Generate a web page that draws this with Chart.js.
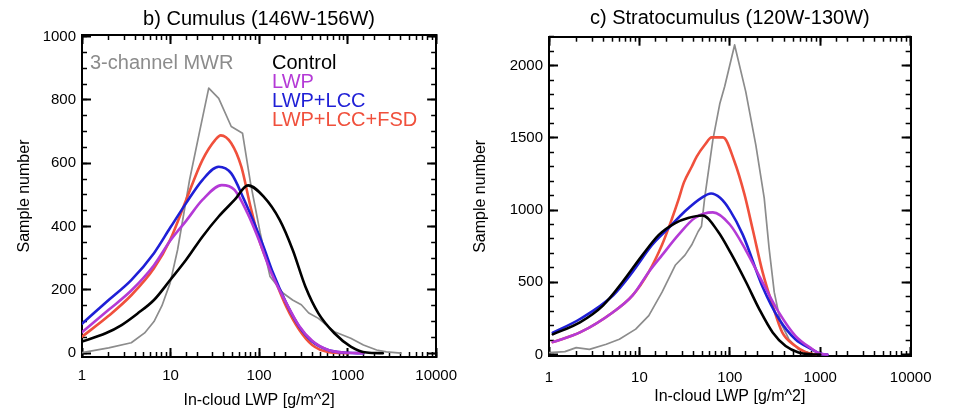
<!DOCTYPE html>
<html>
<head>
<meta charset="utf-8">
<script src="https://cdn.jsdelivr.net/npm/chart.js@4.4.0/dist/chart.umd.min.js"></script>
<style>
html,body{margin:0;padding:0;background:#fff;}
#wrap{position:relative;width:953px;height:410px;overflow:hidden;}
canvas{position:absolute;top:0;}
</style>
</head>
<body>
<div id="wrap">
<canvas id="c1" width="476" height="410" style="left:0px"></canvas>
<canvas id="c2" width="493" height="410" style="left:460px"></canvas>
</div>
<script>
// ---------- tick labels ----------
const X_TICK_VALUES = [1, 10, 100, 1000, 10000];
const X_TICK_LABELS = ['1', '10', '100', '1000', '10000'];
const CU_Y_TICKS = [0, 200, 400, 600, 800, 1000];
const SC_Y_TICKS = [0, 500, 1000, 1500, 2000];

// ---------- series names ----------
const SERIES_NAMES = ['Control', 'LWP', 'LWP+LCC', 'LWP+LCC+FSD', '3-channel MWR'];

// ---------- b) Cumulus (146W-156W) ----------
const CU_CONTROL_X = [1, 1.85, 2.8, 4.27, 6.5, 9.9, 15, 22.9, 34.8, 52.8, 75, 112, 171, 240, 334, 468, 710, 1085, 1640, 2500];
const CU_CONTROL_Y = [37, 63, 89, 126, 168, 231, 295, 368, 431, 484, 530, 495, 421, 326, 210, 126, 63, 21, 2, 0];

const CU_LWP_X = [1, 2, 3.6, 6.5, 9.9, 15, 22.9, 37.9, 52.8, 74, 103, 133, 200, 284, 398, 604, 900, 1500];
const CU_LWP_Y = [66, 137, 198, 278, 355, 418, 484, 531, 516, 442, 347, 263, 162, 86, 39, 10, 2, 0];

const CU_LCC_X = [1, 2, 3.6, 6.5, 9.9, 15, 22.9, 35, 48.5, 68, 88, 112, 144, 203, 284, 398, 604, 900, 1500];
const CU_LCC_Y = [93, 168, 231, 316, 396, 474, 547, 589, 568, 484, 411, 337, 253, 158, 84, 37, 10, 2, 0];

const CU_FSD_X = [1, 2, 3.6, 6.5, 9.9, 15, 22.9, 32, 37, 48.5, 63, 80, 103, 144, 203, 284, 398, 600, 1000];
const CU_FSD_Y = [52, 118, 183, 268, 358, 484, 610, 674, 688, 663, 589, 463, 348, 247, 147, 74, 26, 4, 0];

const CU_MWR_X = [1, 2, 3.6, 5.1, 6.5, 8, 9.9, 12, 16.4, 21, 27, 35, 48.5, 65, 80, 103, 133, 186, 239, 300, 364, 468, 710, 1085, 1510, 2130, 2740, 4000];
const CU_MWR_Y = [2, 17, 33, 64, 100, 150, 222, 326, 547, 692, 837, 805, 716, 695, 538, 380, 242, 190, 168, 153, 127, 110, 68, 47, 26, 10, 4, 0];

// ---------- c) Stratocumulus (120W-130W) ----------
const SC_CONTROL_X = [1.1, 2.2, 3.95, 6.5, 10.8, 16.4, 24.9, 34.6, 50, 74, 103, 151, 211, 298, 414, 575, 800, 1000];
const SC_CONTROL_Y = [140, 223, 339, 502, 688, 828, 910, 945, 962, 852, 700, 502, 316, 153, 59, 15, 2, 0];

const SC_LWP_X = [1.1, 2.2, 5.1, 8.4, 12.7, 17.8, 27, 41, 65, 100, 151, 230, 350, 531, 808, 1000, 1200];
const SC_LWP_Y = [86, 153, 293, 409, 572, 688, 828, 945, 984, 900, 720, 500, 290, 130, 40, 5, 0];

const SC_LCC_X = [1.1, 2.2, 5.1, 8.4, 13.8, 21, 31.9, 48.6, 62, 78, 100, 139, 230, 350, 531, 808, 1000, 1200];
const SC_LCC_Y = [151, 246, 409, 572, 758, 875, 992, 1085, 1115, 1085, 1000, 830, 470, 246, 106, 36, 5, 0];

const SC_FSD_X = [1.1, 2.2, 5.1, 8.4, 12.7, 17.8, 22.9, 27, 31, 37.9, 43, 52.7, 63, 84, 112, 145, 180, 230, 298, 380, 531, 700, 900];
const SC_FSD_Y = [86, 153, 293, 409, 572, 760, 940, 1070, 1190, 1300, 1370, 1450, 1503, 1503, 1340, 1110, 860, 572, 339, 153, 59, 15, 0];

const SC_MWR_X = [1, 1.5, 2, 2.8, 4.3, 6, 9.1, 12.7, 17.8, 24.9, 31.9, 37.8, 44.5, 48.6, 52.7, 65, 77.7, 87.7, 113, 150, 194, 240, 272, 310, 364, 450, 575, 800, 1200];
const SC_MWR_Y = [13, 20, 48, 36, 71, 106, 176, 269, 432, 618, 688, 758, 850, 888, 1085, 1487, 1740, 1855, 2143, 1820, 1450, 1085, 735, 432, 223, 106, 36, 5, 0];

// ---------- styling ----------
const COLORS = ['#000000', '#b43ad6', '#1f1fd6', '#f0503c', '#8c8c8c'];
const WIDTHS = [2.6, 2.6, 2.6, 2.6, 1.7];
const FONT = "'Liberation Sans', Arial, Helvetica, sans-serif";

function pts(xs, ys) { return xs.map((x, i) => ({x: x, y: ys[i]})); }

function makeDatasets(series) {
  return series.map((s, i) => ({
    label: SERIES_NAMES[i],
    data: pts(s[0], s[1]),
    borderColor: COLORS[i],
    backgroundColor: COLORS[i],
    borderWidth: WIDTHS[i],
    pointRadius: 0,
    fill: false,
    tension: i === 4 ? 0 : 0.4,
    cubicInterpolationMode: i === 4 ? 'default' : 'monotone',
    borderJoinStyle: 'round',
    borderCapStyle: 'round'
  }));
}

const isDecade = v => Math.abs(Math.log10(v) - Math.round(Math.log10(v))) < 1e-9;
const fix = (dim, val) => (s) => { s[dim] = val; };

function buildScales(p) {
  const xBase = {type: 'logarithmic', min: 1, max: 10000};
  const tickFont = {family: FONT, size: 15};
  const common = {drawOnChartArea: false, drawTicks: true, tickColor: '#000'};
  const MAJ = {tickLength: -9, tickWidth: 2};
  const MIN = {tickLength: -5, tickWidth: 1.5};
  const yMinorTicks = s => {
    const out = [];
    for (let v = 0; v <= s.max; v += p.yMinorStep) out.push({value: v});
    s.ticks = out;
  };
  const yMajorTicks = s => { s.ticks = p.yTicks.map(v => ({value: v})); };
  const xMajorTicks = s => { s.ticks = s.ticks.filter(t => isDecade(t.value)); };
  const noLabel = () => '';
  return {
    x: Object.assign({}, xBase, {
      position: 'bottom', weight: 1,
      afterBuildTicks: xMajorTicks,
      ticks: {autoSkip: false, maxRotation: 0, padding: p.xLabelPad, color: '#000', font: tickFont,
        callback: v => { const i = X_TICK_VALUES.indexOf(Math.round(v)); return i < 0 ? '' : X_TICK_LABELS[i]; }},
      grid: Object.assign({}, common, MAJ),
      border: {display: true, color: '#000', width: 2},
      title: {display: true, text: 'In-cloud LWP [g/m^2]', color: '#000', font: {family: FONT, size: 16}, padding: {top: 0, bottom: p.xTitlePad}},
      afterFit: fix('height', p.bottomH)
    }),
    xMinor: Object.assign({}, xBase, {
      position: 'bottom', weight: 0,
      ticks: {autoSkip: false, maxRotation: 0, padding: 0, callback: noLabel},
      grid: Object.assign({}, common, MIN),
      border: {display: false},
      afterFit: fix('height', 0)
    }),
    xTop: Object.assign({}, xBase, {
      position: 'top', weight: 1,
      afterBuildTicks: xMajorTicks,
      ticks: {autoSkip: false, maxRotation: 0, padding: 0, callback: noLabel},
      grid: Object.assign({}, common, MAJ),
      border: {display: true, color: '#000', width: 2},
      afterFit: fix('height', 0)
    }),
    xTopMinor: Object.assign({}, xBase, {
      position: 'top', weight: 0,
      ticks: {autoSkip: false, maxRotation: 0, padding: 0, callback: noLabel},
      grid: Object.assign({}, common, MIN),
      border: {display: false},
      afterFit: fix('height', 0)
    }),
    y: {
      type: 'linear', position: 'left', weight: 1, min: p.yMin, max: p.yMax,
      afterBuildTicks: yMajorTicks,
      ticks: {autoSkip: false, padding: 15, color: '#000', font: tickFont, callback: v => String(v)},
      grid: Object.assign({}, common, MAJ),
      border: {display: true, color: '#000', width: 2},
      title: {display: true, text: 'Sample number', color: '#000', font: {family: FONT, size: 16}, padding: {top: p.yTitlePad, bottom: 0}},
      afterFit: fix('width', p.leftW)
    },
    yMinor: {
      type: 'linear', position: 'left', weight: 0, min: p.yMin, max: p.yMax,
      afterBuildTicks: yMinorTicks,
      ticks: {autoSkip: false, padding: 0, callback: noLabel},
      grid: Object.assign({}, common, MIN),
      border: {display: false},
      afterFit: fix('width', 0)
    },
    yRight: {
      type: 'linear', position: 'right', weight: 1, min: p.yMin, max: p.yMax,
      afterBuildTicks: yMajorTicks,
      ticks: {autoSkip: false, padding: 0, callback: noLabel},
      grid: Object.assign({}, common, MAJ),
      border: {display: true, color: '#000', width: 2},
      afterFit: fix('width', 0)
    },
    yRightMinor: {
      type: 'linear', position: 'right', weight: 0, min: p.yMin, max: p.yMax,
      afterBuildTicks: yMinorTicks,
      ticks: {autoSkip: false, padding: 0, callback: noLabel},
      grid: Object.assign({}, common, MIN),
      border: {display: false},
      afterFit: fix('width', 0)
    }
  };
}

// in-plot text legend, drawn from dataset labels and colours
const panelText = {
  id: 'panelText',
  afterDatasetsDraw(chart, args, opts) {
    if (!opts || !opts.show) return;
    const ctx = chart.ctx, a = chart.chartArea, ds = chart.data.datasets;
    ctx.save();
    ctx.font = '20px ' + FONT;
    ctx.textBaseline = 'alphabetic';
    ctx.textAlign = 'left';
    ctx.fillStyle = ds[4].borderColor;
    ctx.fillText(ds[4].label, a.left + 8, a.top + 34);
    for (let i = 0; i < 4; i++) {
      ctx.fillStyle = ds[i].borderColor;
      ctx.fillText(ds[i].label, a.left + 190, a.top + 34 + 19 * i);
    }
    ctx.restore();
  }
};

function makeChart(id, series, p) {
  return new Chart(document.getElementById(id), {
    type: 'line',
    data: {datasets: makeDatasets(series)},
    options: {
      responsive: false,
      animation: false,
      events: [],
      layout: {padding: {left: 0, right: p.rightPad, top: 0, bottom: 0}},
      scales: buildScales(p),
      plugins: {
        legend: {display: false},
        tooltip: {enabled: false},
        title: {display: true, text: p.title, fullSize: false, color: '#000',
          font: {family: FONT, size: 20, weight: 'normal'}, padding: {top: p.titleTop, bottom: p.titleBottom}},
        panelText: {show: p.legend}
      }
    },
    plugins: [panelText]
  });
}

makeChart('c1',
  [[CU_CONTROL_X, CU_CONTROL_Y], [CU_LWP_X, CU_LWP_Y], [CU_LCC_X, CU_LCC_Y], [CU_FSD_X, CU_FSD_Y], [CU_MWR_X, CU_MWR_Y]],
  {title: 'b) Cumulus (146W-156W)', yMin: -12, yMax: 1005, yTicks: CU_Y_TICKS, yMinorStep: 50,
   leftW: 82, rightPad: 28, bottomH: 53, titleTop: 7.2, titleBottom: 3.8,
   xLabelPad: 19, xTitlePad: 0, yTitlePad: 15.4, legend: true});

makeChart('c2',
  [[SC_CONTROL_X, SC_CONTROL_Y], [SC_LWP_X, SC_LWP_Y], [SC_LCC_X, SC_LCC_Y], [SC_FSD_X, SC_FSD_Y], [SC_MWR_X, SC_MWR_Y]],
  {title: 'c) Stratocumulus (120W-130W)', yMin: -10, yMax: 2200, yTicks: SC_Y_TICKS, yMinorStep: 100,
   leftW: 89, rightPad: 37, bottomH: 54, titleTop: 6.3, titleBottom: 6.4,
   xLabelPad: 21.5, xTitlePad: 3.4, yTitlePad: 11.4, legend: false});
</script>
</body>
</html>
